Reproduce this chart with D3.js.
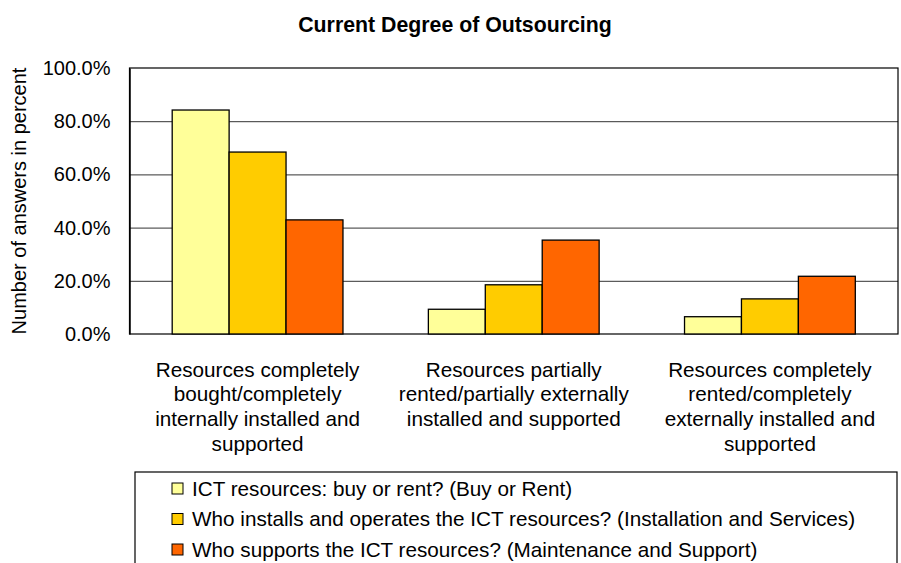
<!DOCTYPE html>
<html>
<head>
<meta charset="utf-8">
<script src="https://cdn.jsdelivr.net/npm/d3@7/dist/d3.min.js"></script>
<style>
  body { margin: 0; background: #fff; }
  svg { display: block; font-family: "Liberation Sans", Arial, Helvetica, sans-serif; }
</style>
</head>
<body>
<svg id="grafico" width="901" height="563"></svg>
<script>
const categories = [
  "Resources completely\nbought/completely\ninternally installed and\nsupported",
  "Resources partially\nrented/partially externally\ninstalled and supported",
  "Resources completely\nrented/completely\nexternally installed and\nsupported"
];
const series = [
  "ICT resources: buy or rent? (Buy or Rent)",
  "Who installs and operates the ICT resources? (Installation and Services)",
  "Who supports the ICT resources? (Maintenance and Support)"
];
const buyOrRent = [84.2, 9.3, 6.5];
const installation = [68.4, 18.5, 13.2];
const maintenance = [42.9, 35.3, 21.7];
const yTicks = [0, 20, 40, 60, 80, 100];
const colors = ["#FFFF99", "#FFCC00", "#FF6600"];

const values = [buyOrRent, installation, maintenance];
const datos = categories.map((c, i) => ({
  categoria: c,
  valores: series.map((s, j) => ({ serie: s, valor: values[j][i] }))
}));

const svg = d3.select("#grafico");
const plotLeft = 129.5, plotRight = 898, plotTop = 68, plotBottom = 334;

const x = d3.scaleBand()
  .domain(categories)
  .range([plotLeft, plotRight])
  .paddingInner(1 / 3)
  .paddingOuter(1 / 6);

const xs = d3.scaleBand()
  .domain(series)
  .range([0, x.bandwidth()]);

const y = d3.scaleLinear()
  .domain([0, 100])
  .range([plotBottom, plotTop]);

// title
svg.append("text")
  .attr("x", 455)
  .attr("y", 31.5)
  .attr("text-anchor", "middle")
  .attr("font-size", 21.3)
  .attr("font-weight", "bold")
  .text("Current Degree of Outsourcing");

// gridlines
svg.append("g")
  .attr("transform", `translate(${plotLeft},0)`)
  .call(d3.axisLeft(y).tickValues(yTicks.slice(1, -1)).tickSize(-(plotRight - plotLeft)).tickFormat(""))
  .call(g => g.select(".domain").remove())
  .call(g => g.selectAll("line").attr("stroke", "#333").attr("stroke-width", 1));

// frame
svg.append("rect")
  .attr("x", plotLeft)
  .attr("y", plotTop)
  .attr("width", plotRight - plotLeft)
  .attr("height", plotBottom - plotTop)
  .attr("fill", "none")
  .attr("stroke", "#000")
  .attr("stroke-width", 1.2);

// y axis
svg.append("g")
  .attr("transform", `translate(${plotLeft},0)`)
  .call(d3.axisLeft(y).tickValues(yTicks).tickSize(0).tickPadding(19)
    .tickFormat(d => d3.format(".1%")(d / 100)))
  .call(g => g.select(".domain").attr("stroke", "#000").attr("stroke-width", 1.5))
  .call(g => g.selectAll("text")
    .attr("font-size", 20)
    .attr("font-family", "Liberation Sans, Arial, sans-serif")
    .attr("fill", "#000"));

svg.append("text")
  .attr("transform", `translate(26,${(plotTop + plotBottom) / 2}) rotate(-90)`)
  .attr("text-anchor", "middle")
  .attr("font-size", 20)
  .text("Number of answers in percent");

// bars
const grupos = svg.selectAll("g.grupo")
  .data(datos)
  .join("g")
  .attr("class", "grupo")
  .attr("transform", d => `translate(${x(d.categoria)},0)`);

grupos.selectAll("rect")
  .data(d => d.valores)
  .join("rect")
  .attr("x", d => xs(d.serie))
  .attr("y", d => y(d.valor))
  .attr("width", xs.bandwidth())
  .attr("height", d => y(0) - y(d.valor))
  .attr("fill", (d, i) => colors[i])
  .attr("stroke", "#000")
  .attr("stroke-width", 1.3);

// category labels
svg.selectAll("text.categoria")
  .data(categories)
  .join("text")
  .attr("class", "categoria")
  .attr("text-anchor", "middle")
  .attr("font-size", 20.7)
  .each(function (d) {
    const t = d3.select(this);
    d.split("\n").forEach((line, i) => {
      t.append("tspan")
        .attr("x", x(d) + x.bandwidth() / 2)
        .attr("y", 376.5 + i * 24.7)
        .text(line);
    });
  });

// legend
svg.append("rect")
  .attr("x", 135)
  .attr("y", 472)
  .attr("width", 897 - 135)
  .attr("height", 120)
  .attr("fill", "#fff")
  .attr("stroke", "#000")
  .attr("stroke-width", 1.2);

const items = svg.selectAll("g.leyenda")
  .data(series)
  .join("g")
  .attr("class", "leyenda")
  .attr("transform", (d, i) => `translate(172,${483 + i * 30.5})`);

items.append("rect")
  .attr("width", 11)
  .attr("height", 11)
  .attr("fill", (d, i) => colors[i])
  .attr("stroke", "#000")
  .attr("stroke-width", 1);

items.append("text")
  .attr("x", 20)
  .attr("y", 12.5)
  .attr("font-size", 20.7)
  .text(d => d);
</script>
</body>
</html>
